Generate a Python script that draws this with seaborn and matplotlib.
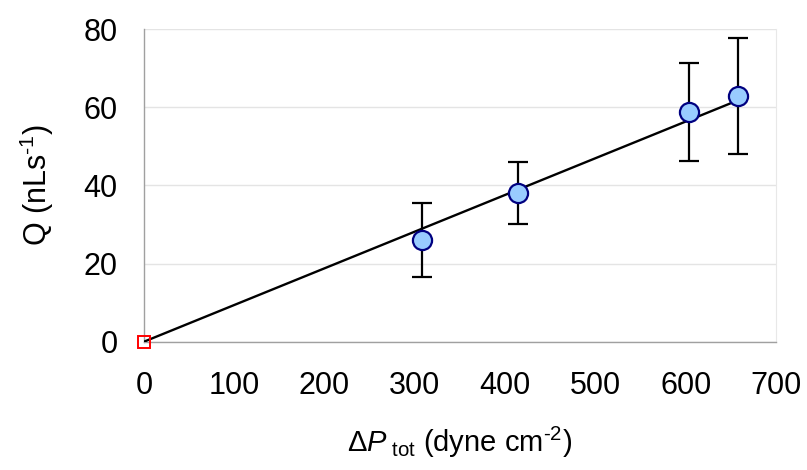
import numpy as np
import pandas as pd
import seaborn as sns
import matplotlib.pyplot as plt

# data
dp_tot = [308, 414, 604, 658]
flow = [26.0, 38.0, 58.8, 62.9]
flow_err = [9.5, 8.0, 12.5, 14.8]

fit_x = [0, 658]
fit_y = [0, 61.8]

origin_x = [0]
origin_y = [0]

xticks = [0, 100, 200, 300, 400, 500, 600, 700]
yticks = [0, 20, 40, 60, 80]

sns.set_style("white")
plt.rcParams["font.family"] = ["Liberation Sans", "DejaVu Sans"]
plt.rcParams["mathtext.fontset"] = "custom"
plt.rcParams["mathtext.rm"] = "Liberation Sans"
plt.rcParams["mathtext.it"] = "Liberation Sans:italic"
plt.rcParams["text.color"] = "black"
plt.rcParams["axes.labelcolor"] = "black"
plt.rcParams["xtick.labelcolor"] = "black"
plt.rcParams["ytick.labelcolor"] = "black"

df = pd.DataFrame({"dp": dp_tot, "q": flow, "err": flow_err})
fit = pd.DataFrame({"x": fit_x, "y": fit_y})

fig = plt.figure(figsize=(8.07, 4.70), dpi=100)
ax = fig.add_axes([0.1784, 0.273, 0.7832, 0.665])

ax.errorbar(df["dp"], df["q"], yerr=df["err"], fmt="none", ecolor="black",
            elinewidth=1.6, capsize=7.5, capthick=1.6, zorder=2)
sns.lineplot(data=fit, x="x", y="y", color="black", linewidth=1.7, ax=ax, zorder=3)
sns.scatterplot(data=df, x="dp", y="q", s=190, color="#99CCFF",
                edgecolor="#000080", linewidth=1.6, ax=ax, zorder=4)
ax.plot(origin_x, origin_y, marker="s", markersize=8.5, markerfacecolor="none",
        markeredgecolor="red", markeredgewidth=1.4, linestyle="none", zorder=5,
        clip_on=False)

ax.set_xlim(0, 700)
ax.set_ylim(0, 80)
ax.set_xticks(xticks)
ax.set_yticks(yticks)
ax.tick_params(axis="both", labelsize=22, length=8, width=1, color="#a0a0a0",
               direction="out", pad=11)
ax.tick_params(axis="x", pad=13)

ax.yaxis.grid(True, color="#e4e4e4", linewidth=1)
ax.set_axisbelow(True)
for side in ["left", "bottom"]:
    ax.spines[side].set_color("#a0a0a0")
    ax.spines[side].set_linewidth(1)
ax.spines["top"].set_visible(False)
ax.spines["right"].set_color("#e8e8e8")

ax.set_xlabel(r"$\Delta\mathit{P}_{\ \rm tot}$ (dyne cm$^{\text{-}2}$)", fontsize=21, labelpad=17)
ax.set_ylabel(r"Q (nLs$^{\text{-}1}$)", fontsize=22, labelpad=20)

fig.savefig("out.png", dpi=100)
